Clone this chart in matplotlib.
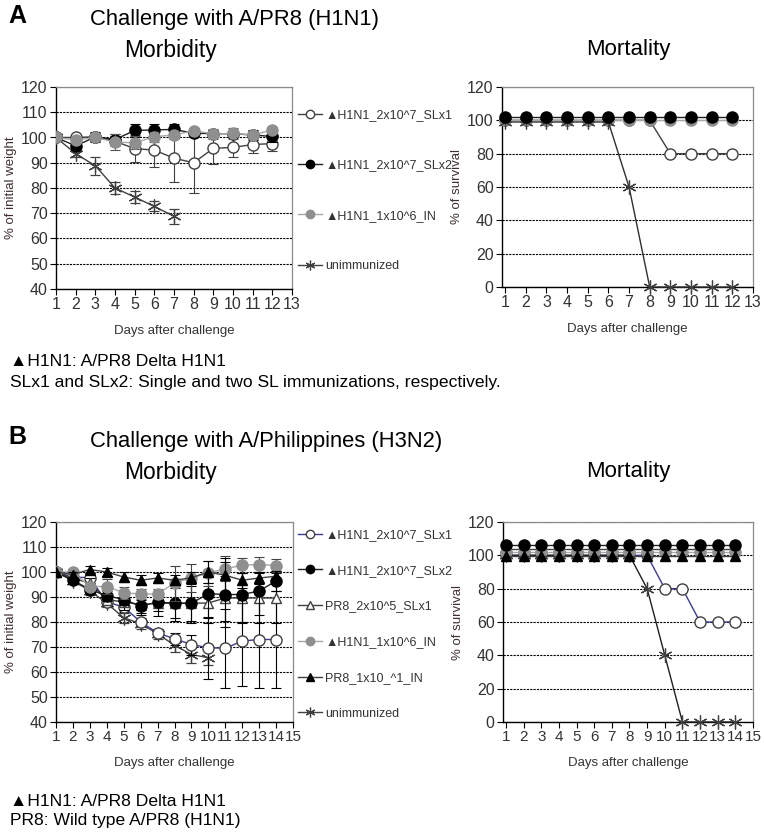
import matplotlib
matplotlib.use("Agg")
import matplotlib.pyplot as plt
from matplotlib.lines import Line2D

plt.rcParams['font.family'] = ['Liberation Sans', 'DejaVu Sans']

# ---------------- panel A: challenge with A/PR8 (H1N1) ----------------
days_a = [1, 2, 3, 4, 5, 6, 7, 8, 9, 10, 11, 12]
days_a_un = [1, 2, 3, 4, 5, 6, 7]

a_slx1 = [100, 100, 100.3, 98.5, 95.6, 95, 91.8, 90, 95.7, 96.1, 97.2, 97.6]
a_slx1_err = [0, 1, 1.5, 2, 5.5, 6.5, 9.3, 11.8, 6, 4, 3.5, 3]
a_slx2 = [100, 96.7, 100.2, 99.2, 102.8, 103, 103.2, 101.7, 101.5, 101.5, 101, 100.4]
a_slx2_err = [0, 1.5, 2, 2, 2.5, 2.5, 2, 1.5, 1.5, 1.5, 2, 2]
a_in = [100, 99, 100, 98.2, 97.9, 100.3, 101, 102.7, 101.4, 101.6, 101, 103]
a_in_err = [0, 1, 1.5, 3, 2.5, 2, 1.5, 1, 2, 2, 1.5, 1]
a_un = [100, 93.6, 88.8, 80, 76.4, 72.7, 68.8]
a_un_err = [0, 1.5, 3.5, 2.5, 2.5, 2, 3]

a_mort_slx1 = [100, 100, 100, 100, 100, 100, 100, 100, 80, 80, 80, 80]
a_mort_slx2 = [102, 102, 102, 102, 102, 102, 102, 102, 102, 102, 102, 102]
a_mort_in = [100, 100, 100, 100, 100, 100, 100, 100, 100, 100, 100, 100]
a_mort_un = [99, 99, 99, 99, 99, 99, 60, 0, 0, 0, 0, 0]

labels_a = ['▲H1N1_2x10^7_SLx1', '▲H1N1_2x10^7_SLx2', '▲H1N1_1x10^6_IN', 'unimmunized']

# ---------------- panel B: challenge with A/Philippines (H3N2) ----------------
days_b = [1, 2, 3, 4, 5, 6, 7, 8, 9, 10, 11, 12, 13, 14]
days_b_un = [1, 2, 3, 4, 5, 6, 7, 8, 9, 10]

b_slx1 = [100, 98, 97.7, 88, 86, 80, 75.6, 73.3, 71, 69.7, 69.5, 72.4, 73, 73]
b_slx1_err = [0, 1, 2, 1.5, 2, 1.5, 1.5, 2.5, 4, 12.4, 15.8, 18, 19.5, 19.5]
b_slx2 = [100, 96.7, 93, 90.5, 89, 86.3, 88, 87.5, 87.5, 91.3, 91, 91, 92.4, 96.4]
b_slx2_err = [0, 1.5, 1.5, 2, 2, 2.5, 3.5, 7, 8, 9.5, 13, 11, 9.5, 4]
b_pr8_sl = [100, 97.5, 95.5, 89, 88, 87, 87.5, 87.5, 87.5, 87.6, 89.6, 89.6, 89.6, 89.6]
b_pr8_sl_err = [0, 1.5, 2, 2, 3, 4, 5, 6, 7, 8, 9, 10, 10, 10]
b_in = [100, 100, 94.2, 94.2, 91.7, 91.2, 91.2, 95.6, 97.7, 99.6, 101.3, 102.7, 103, 102.6]
b_in_err = [0, 1, 1.5, 3, 2.5, 2, 2, 7, 5.5, 5, 5, 3, 3, 2.5]
b_pr8_in = [100, 99, 101, 100, 98, 96.7, 97.6, 96.7, 97.7, 100, 98.7, 96.7, 97.6, 98.3]
b_pr8_in_err = [0, 1, 1.5, 1.5, 2, 2, 2, 2, 2.5, 4.5, 7, 3, 2.5, 2]
b_un = [100, 96.5, 92.5, 87.5, 81.7, 79.3, 75.3, 70.7, 67, 65.7]
b_un_err = [0, 1, 1.5, 1.5, 2, 2, 2, 2.5, 3.5, 3]

b_mort_slx1 = [100, 100, 100, 100, 100, 100, 100, 100, 100, 80, 80, 60, 60, 60]
b_mort_slx2 = [106, 106, 106, 106, 106, 106, 106, 106, 106, 106, 106, 106, 106, 106]
b_mort_pr8_sl = [104, 104, 104, 104, 104, 104, 104, 104, 104, 104, 104, 104, 104, 104]
b_mort_in = [102, 102, 102, 102, 102, 102, 102, 102, 102, 102, 102, 102, 102, 102]
b_mort_pr8_in = [99.5, 99.5, 99.5, 99.5, 99.5, 99.5, 99.5, 99.5, 99.5, 99.5, 99.5, 99.5, 99.5, 99.5]
b_mort_un = [100, 100, 100, 100, 100, 100, 100, 100, 80, 40, 0, 0, 0, 0]

labels_b = ['▲H1N1_2x10^7_SLx1', '▲H1N1_2x10^7_SLx2', 'PR8_2x10^5_SLx1',
            '▲H1N1_1x10^6_IN', 'PR8_1x10_^1_IN', 'unimmunized']

# ---------------- styles ----------------
DARK = '#404040'
GREY = '#8f8f8f'
NAVY = '#3b3b8f'
ASTER = (6, 2, 0)

st_slx1 = dict(marker='o', mfc='white', mec=DARK, color=DARK, ms=8)
st_slx1_b = dict(marker='o', mfc='white', mec=DARK, color=NAVY, ms=8)
st_slx2 = dict(marker='o', mfc='black', mec='black', color='#202020', ms=8)
st_in = dict(marker='o', mfc=GREY, mec=GREY, color='#a8a8a8', ms=8)
st_un = dict(marker=ASTER, mfc='none', mec=DARK, color=DARK, ms=10, mew=0.9)
st_tri_open = dict(marker='^', mfc='white', mec=DARK, color=DARK, ms=7.5)
st_tri_fill = dict(marker='^', mfc='black', mec='black', color=DARK, ms=7.5)

TXT = '#333333'
LBL = '#3f2f2f'


def style_axes(ax, xmin, xmax, ymin, ymax, ystep, ylabel, xsize=11.5):
    ax.set_xlim(xmin, xmax)
    ax.set_ylim(ymin, ymax)
    ax.set_xticks(range(1, int(xmax) + 1))
    ax.set_yticks(range(ymin, ymax + 1, ystep))
    ax.grid(axis='y', color='black', linestyle=(0, (2, 1)), linewidth=0.8)
    ax.set_axisbelow(True)
    for s in ['top', 'right']:
        ax.spines[s].set_color('#8a8a8a')
        ax.spines[s].set_linewidth(0.9)
    for s in ['left', 'bottom']:
        ax.spines[s].set_color('black')
        ax.spines[s].set_linewidth(1.0)
    ax.tick_params(axis='both', direction='out', length=4, width=0.8,
                   labelsize=11.5, labelcolor=TXT, pad=2)
    ax.tick_params(axis='x', labelsize=xsize)
    ax.set_ylabel(ylabel, fontsize=9.5, color=LBL, labelpad=3)
    ax.set_xlabel('Days after challenge', fontsize=9.5, color=TXT, labelpad=9)


def curve(ax, x, y, err, st, ecolor='black', z=3):
    ax.errorbar(x, y, yerr=err, capsize=3.5, elinewidth=0.8, capthick=0.8,
                ecolor=ecolor, lw=1.0, zorder=z, **st)


def legend_handle(st):
    small = dict(st)
    small['ms'] = 6 if st['marker'] != ASTER else 7
    return Line2D([0], [0], lw=1.0, **small)


fig = plt.figure(figsize=(7.66, 8.4), dpi=100)
W, H = 766.0, 840.0


def box(l, t, r, b):
    return [l / W, 1 - b / H, (r - l) / W, (b - t) / H]


# ---- A morbidity
ax1 = fig.add_axes(box(56, 87, 292, 289))
curve(ax1, days_a_un, a_un, a_un_err, st_un, ecolor=DARK, z=3)
curve(ax1, days_a, a_slx1, a_slx1_err, st_slx1, ecolor=DARK, z=4)
curve(ax1, days_a, a_slx2, a_slx2_err, st_slx2, ecolor='black', z=5)
curve(ax1, days_a, a_in, a_in_err, st_in, ecolor='#555555', z=6)
style_axes(ax1, 1, 13, 40, 120, 10, '% of initial weight')

# ---- A mortality
ax2 = fig.add_axes(box(502, 87, 753, 287))
ax2.plot(days_a, a_mort_slx1, lw=1.0, zorder=3, **st_slx1)
ax2.plot(days_a, a_mort_in, lw=1.0, zorder=4, **st_in)
ax2.plot(days_a, a_mort_un, lw=1.0, zorder=5, **dict(st_un, color='#303030'))
ax2.plot(days_a, a_mort_slx2, lw=1.0, zorder=6, **st_slx2)
style_axes(ax2, 0.85, 13, 0, 120, 20, '% of survival')
for ln in ax2.lines:
    ln.set_clip_on(False)

handles_a = [legend_handle(st_slx1), legend_handle(st_slx2), legend_handle(st_in), legend_handle(st_un)]
fig.legend(handles_a, labels_a, loc='upper left', bbox_to_anchor=(298 / W, 1 - 109 / H),
           frameon=False, fontsize=9, labelspacing=3.07, handlelength=1.9,
           handletextpad=0.3, borderpad=0, borderaxespad=0, labelcolor=TXT)

# ---- B morbidity
ax3 = fig.add_axes(box(56, 522, 293, 722))
curve(ax3, days_b_un, b_un, b_un_err, st_un, ecolor=DARK, z=3)
curve(ax3, days_b, b_slx1, b_slx1_err, st_slx1_b, ecolor='black', z=4)
curve(ax3, days_b, b_pr8_sl, b_pr8_sl_err, st_tri_open, ecolor='black', z=5)
curve(ax3, days_b, b_slx2, b_slx2_err, st_slx2, ecolor='black', z=6)
curve(ax3, days_b, b_in, b_in_err, st_in, ecolor='#444444', z=7)
curve(ax3, days_b, b_pr8_in, b_pr8_in_err, st_tri_fill, ecolor='black', z=8)
style_axes(ax3, 1, 15, 40, 120, 10, '% of initial weight', xsize=11)

# ---- B mortality
ax4 = fig.add_axes(box(503, 522, 753, 722))
ax4.plot(days_b, b_mort_slx1, lw=1.0, zorder=3, **st_slx1_b)
ax4.plot(days_b, b_mort_un, lw=1.0, zorder=4, **dict(st_un, color='#202020'))
ax4.plot(days_b, b_mort_pr8_sl, lw=1.0, zorder=5, **st_tri_open)
ax4.plot(days_b, b_mort_in, lw=1.0, zorder=6, **st_in)
ax4.plot(days_b, b_mort_pr8_in, lw=1.0, zorder=7, **st_tri_fill)
ax4.plot(days_b, b_mort_slx2, lw=1.0, zorder=8, **st_slx2)
style_axes(ax4, 0.83, 15, 0, 120, 20, '% of survival', xsize=11)
for ln in ax4.lines:
    ln.set_clip_on(False)

handles_b = [legend_handle(st_slx1_b), legend_handle(st_slx2), legend_handle(st_tri_open),
             legend_handle(st_in), legend_handle(st_tri_fill), legend_handle(st_un)]
fig.legend(handles_b, labels_b, loc='upper left', bbox_to_anchor=(298 / W, 1 - 529 / H),
           frameon=False, fontsize=9, labelspacing=1.9, handlelength=1.9,
           handletextpad=0.3, borderpad=0, borderaxespad=0, labelcolor=TXT)

# ---- titles and notes
def ftext(x, y, s, **kw):
    fig.text(x / W, 1 - y / H, s, va='center', **kw)


ftext(8, 16, 'A', fontsize=18, fontweight='bold')
ftext(90, 19, 'Challenge with A/PR8 (H1N1)', fontsize=15.8)
ftext(170, 50, 'Morbidity', fontsize=16.5, ha='center')
ftext(628, 50, 'Mortality', fontsize=16, ha='center')
ftext(10, 362, '▲H1N1: A/PR8 Delta H1N1', fontsize=12.6)
ftext(10, 383, 'SLx1 and SLx2: Single and two SL immunizations, respectively.', fontsize=12.6)

ftext(8, 437, 'B', fontsize=18, fontweight='bold')
ftext(90, 441, 'Challenge with A/Philippines (H3N2)', fontsize=15.8)
ftext(170, 472, 'Morbidity', fontsize=16.5, ha='center')
ftext(628, 472, 'Mortality', fontsize=16, ha='center')
ftext(10, 801, '▲H1N1: A/PR8 Delta H1N1', fontsize=12.6)
ftext(10, 820, 'PR8: Wild type A/PR8 (H1N1)', fontsize=12.6)

fig.savefig('out.png', dpi=100)
